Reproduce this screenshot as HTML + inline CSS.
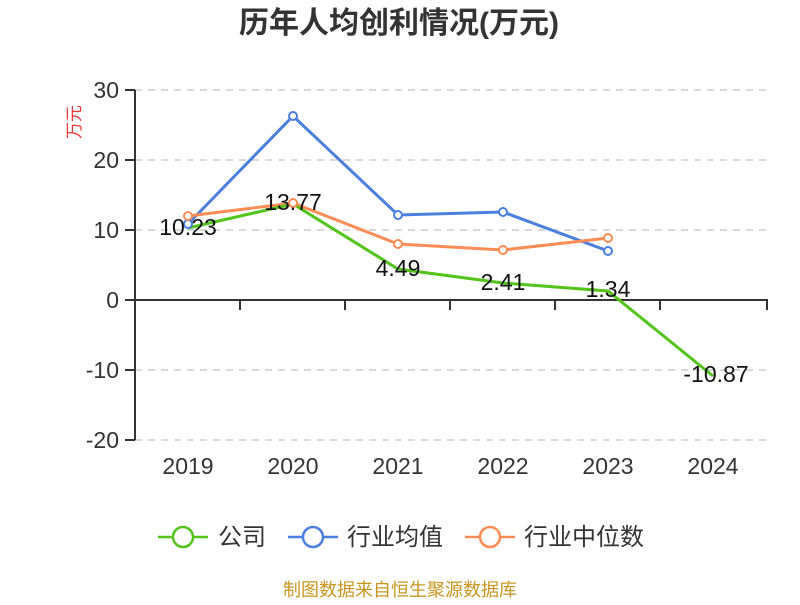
<!DOCTYPE html>
<html><head><meta charset="utf-8"><style>
body{margin:0;background:#fff;}
svg text{font-family:"Liberation Sans","Noto Sans CJK SC",sans-serif;}
</style></head><body>
<svg width="800" height="600" xmlns="http://www.w3.org/2000/svg">
<rect width="800" height="600" fill="#fff"/>
<text x="399" y="33" text-anchor="middle" font-size="30" font-weight="bold" fill="#333">历年人均创利情况(万元)</text>
<text transform="translate(80,122) rotate(-90)" text-anchor="middle" font-size="17" fill="#e83a3a">万元</text>
<g stroke="#ccc" stroke-width="1.5" stroke-dasharray="7,6">
<line x1="135" y1="90" x2="768" y2="90"/><line x1="135" y1="160" x2="768" y2="160"/><line x1="135" y1="230" x2="768" y2="230"/><line x1="135" y1="370" x2="768" y2="370"/><line x1="135" y1="440" x2="768" y2="440"/>
</g>
<g stroke="#333" stroke-width="2">
<line x1="135" y1="90" x2="135" y2="440"/>
<line x1="135" y1="300" x2="768" y2="300"/>
<line x1="125" y1="90" x2="135" y2="90"/><line x1="125" y1="160" x2="135" y2="160"/><line x1="125" y1="230" x2="135" y2="230"/><line x1="125" y1="300" x2="135" y2="300"/><line x1="125" y1="370" x2="135" y2="370"/><line x1="125" y1="440" x2="135" y2="440"/>
<line x1="240" y1="300" x2="240" y2="310"/><line x1="345" y1="300" x2="345" y2="310"/><line x1="450" y1="300" x2="450" y2="310"/><line x1="555" y1="300" x2="555" y2="310"/><line x1="660" y1="300" x2="660" y2="310"/><line x1="767" y1="300" x2="767" y2="310"/>
</g>
<g font-size="23" fill="#333" text-anchor="end">
<text x="119" y="98">30</text><text x="119" y="168">20</text><text x="119" y="238">10</text><text x="119" y="308">0</text><text x="119" y="378">-10</text><text x="119" y="448">-20</text>
</g>
<g font-size="23" fill="#333" text-anchor="middle">
<text x="188" y="474">2019</text><text x="293" y="474">2020</text><text x="398" y="474">2021</text><text x="503" y="474">2022</text><text x="608" y="474">2023</text><text x="713" y="474">2024</text>
</g>
<polyline fill="none" stroke="#4a7fe0" stroke-width="3" points="188,224 293,116 398,215 503,212 608,251"/>
<polyline fill="none" stroke="#ff8c55" stroke-width="3" points="188,216 293,203 398,244 503,250 608,238"/>
<polyline fill="none" stroke="#52c41a" stroke-width="3" points="188,228 293,204 398,269 503,283 608,291 713,376"/>
<g fill="#fff" stroke-width="2">
<g stroke="#4a7fe0"><circle cx="188" cy="224" r="4"/><circle cx="293" cy="116" r="4"/><circle cx="398" cy="215" r="4"/><circle cx="503" cy="212" r="4"/><circle cx="608" cy="251" r="4"/></g>
<g stroke="#ff8c55"><circle cx="188" cy="216" r="4"/><circle cx="293" cy="203" r="4"/><circle cx="398" cy="244" r="4"/><circle cx="503" cy="250" r="4"/><circle cx="608" cy="238" r="4"/></g>
</g>
<g font-size="23" fill="#111" text-anchor="middle">
<text x="188" y="235">10.23</text><text x="293" y="210">13.77</text><text x="398" y="276">4.49</text><text x="503" y="290">2.41</text><text x="608" y="297">1.34</text><text x="716" y="382">-10.87</text>
</g>
<g stroke-width="2.5" fill="#fff">
<line x1="158" y1="537" x2="208" y2="537" stroke="#52c41a"/><circle cx="183" cy="537" r="10" stroke="#52c41a"/>
<line x1="288" y1="537" x2="338" y2="537" stroke="#4a7fe0"/><circle cx="313" cy="537" r="10" stroke="#4a7fe0"/>
<line x1="465" y1="537" x2="515" y2="537" stroke="#ff8c55"/><circle cx="490" cy="537" r="10" stroke="#ff8c55"/>
</g>
<g font-size="24" fill="#333">
<text x="218" y="545">公司</text><text x="347" y="545">行业均值</text><text x="524" y="545">行业中位数</text>
</g>
<text x="400" y="596" text-anchor="middle" font-size="18" fill="#c8961e">制图数据来自恒生聚源数据库</text>
</svg>
</body></html>
